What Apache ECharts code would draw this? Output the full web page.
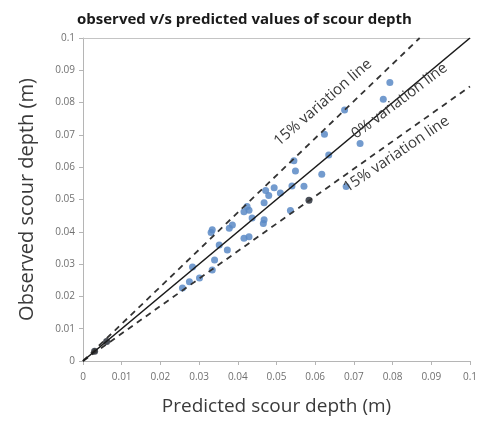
<!DOCTYPE html>
<html>
<head>
<meta charset="utf-8">
<script src="https://cdn.jsdelivr.net/npm/echarts@6/dist/echarts.min.js"></script>
<style>
  html, body { margin: 0; padding: 0; background: #fff; }
  #chart { width: 480px; height: 421px; }
</style>
</head>
<body>
<div id="chart"></div>
<script>
// Tick labels shared by both axes (0 .. 0.1 in steps of 0.01)
const tickLabels = ['0', '0.01', '0.02', '0.03', '0.04', '0.05', '0.06', '0.07', '0.08', '0.09', '0.1'];

// Predicted vs observed scour depth (m): [predicted, observed]
const measured = [
  [0.0793, 0.0862], [0.0776, 0.0810], [0.0676, 0.0777], [0.0716, 0.0673],
  [0.0624, 0.0702], [0.0635, 0.0638], [0.0617, 0.0578], [0.0545, 0.0620],
  [0.0549, 0.0588], [0.0571, 0.0541], [0.0540, 0.0542], [0.0680, 0.0540],
  [0.0536, 0.0466], [0.0494, 0.0536], [0.0480, 0.0512], [0.0472, 0.0528],
  [0.0468, 0.0490], [0.0468, 0.0437], [0.0466, 0.0426], [0.0429, 0.0467],
  [0.0424, 0.0478], [0.0416, 0.0462], [0.0437, 0.0443], [0.0386, 0.0421],
  [0.0378, 0.0411], [0.0334, 0.0406], [0.0331, 0.0398], [0.0429, 0.0385],
  [0.0416, 0.0380], [0.0373, 0.0344], [0.0352, 0.0359], [0.0340, 0.0313],
  [0.0334, 0.0282], [0.0301, 0.0257], [0.0283, 0.0291], [0.0275, 0.0245],
  [0.0257, 0.0226], [0.0510, 0.0520]
];
// Darker markers
const measuredDark = [[0.0030, 0.0030], [0.0061, 0.0060], [0.0584, 0.0498]];

// Reference lines: perfect agreement and +/-15 % bands
const lineExact = [[0, 0], [0.1, 0.1]];
const lineUpper = [[0, 0], [0.087, 0.1]];
const lineLower = [[0, 0], [0.1, 0.085]];

// Line captions: [x, y, rotation]
const captions = [
  { text: '15% variation line', at: [0.0620, 0.0800], rot: 41 },
  { text: '0% variation line', at: [0.0818, 0.0805], rot: 37 },
  { text: '15% variation line', at: [0.0810, 0.0640], rot: 34 }
];

const FONT = '"Open Sans", "Noto Sans", sans-serif';
const chart = echarts.init(document.getElementById('chart'));

const valueAxis = (name, gap, size) => ({
  type: 'value', min: 0, max: 0.1, interval: 0.01,
  name: name, nameLocation: 'middle', nameGap: gap,
  nameTextStyle: { fontFamily: FONT, fontSize: size, color: '#3a3a3a' },
  axisLine: { show: true, lineStyle: { color: '#b5b5b5', width: 1 } },
  axisTick: { show: true, length: 4, lineStyle: { color: '#b5b5b5' } },
  axisLabel: {
    fontFamily: FONT, fontSize: 10, color: '#707070',
    formatter: v => tickLabels[Math.round(v / 0.01)]
  },
  splitLine: { show: false }
});

const xMain = valueAxis('Predicted scour depth (m)', 36, 19);
xMain.axisLabel.margin = 11;
const yMain = valueAxis('Observed scour depth (m)', 46, 20);
yMain.axisLabel.margin = 8;

chart.setOption({
  animation: false,
  backgroundColor: '#ffffff',
  title: {
    text: 'observed v/s predicted values of scour depth',
    left: 72, top: 7,
    textStyle: { fontFamily: FONT, fontSize: 15, fontWeight: 'bold', color: '#1a1a1a' }
  },
  grid: { left: 83, right: 8, top: 38, bottom: 60 },
  xAxis: [
    xMain,
    { type: 'value', position: 'top', min: 0, max: 0.1,
      axisLine: { show: true, lineStyle: { color: '#c4c4c4' } },
      axisTick: { show: false }, axisLabel: { show: false }, splitLine: { show: false } }
  ],
  yAxis: yMain,
  series: [
    { type: 'line', data: lineUpper, symbol: 'none', silent: true,
      lineStyle: { color: '#333333', width: 1.8, type: [6, 5] } },
    { type: 'line', data: lineLower, symbol: 'none', silent: true,
      lineStyle: { color: '#333333', width: 1.8, type: [6, 5] } },
    { type: 'scatter', data: measured, symbolSize: 7,
      itemStyle: { color: '#5b8ac6', opacity: 0.85 } },
    { type: 'scatter', data: measuredDark, symbolSize: 7,
      itemStyle: { color: '#1e2430' } },
    { type: 'line', data: lineExact, symbol: 'none', silent: true,
      lineStyle: { color: '#1a1a1a', width: 1.6 } }
  ]
});

// Captions placed along the reference lines
chart.setOption({
  graphic: captions.map(c => {
    const p = chart.convertToPixel({ xAxisIndex: 0, yAxisIndex: 0 }, c.at);
    return {
      type: 'text', x: p[0], y: p[1], rotation: c.rot * Math.PI / 180, z: 10,
      style: {
        text: c.text, fontFamily: FONT, fontSize: 15, fill: '#3a3a3a',
        align: 'center', verticalAlign: 'middle'
      }
    };
  })
});
</script>
</body>
</html>
